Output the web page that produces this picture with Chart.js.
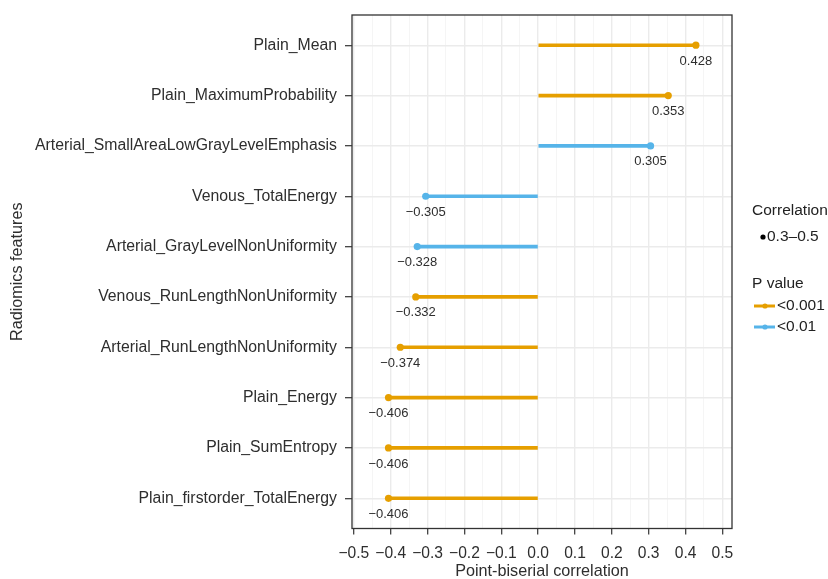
<!DOCTYPE html>
<html>
<head>
<meta charset="utf-8">
<script src="https://cdn.jsdelivr.net/npm/chart.js@4/dist/chart.umd.min.js"></script>
<style>
  html, body { margin: 0; padding: 0; background: #fff; }
  #wrap { width: 828px; height: 579px; }
</style>
</head>
<body>
<div id="wrap"><canvas id="c" width="828" height="579"></canvas></div>
<script>
// ---- data ----
const features = [
  'Plain_Mean',
  'Plain_MaximumProbability',
  'Arterial_SmallAreaLowGrayLevelEmphasis',
  'Venous_TotalEnergy',
  'Arterial_GrayLevelNonUniformity',
  'Venous_RunLengthNonUniformity',
  'Arterial_RunLengthNonUniformity',
  'Plain_Energy',
  'Plain_SumEntropy',
  'Plain_firstorder_TotalEnergy'
];
const correlations = [0.428, 0.353, 0.305, -0.305, -0.328, -0.332, -0.374, -0.406, -0.406, -0.406];
const pValueGroups = ['<0.001', '<0.001', '<0.01', '<0.01', '<0.01', '<0.001', '<0.001', '<0.001', '<0.001', '<0.001'];
const pValueLevels = ['<0.001', '<0.01'];
const correlationLevels = ['0.3\u20130.5'];
const xTickValues = [-0.5, -0.4, -0.3, -0.2, -0.1, 0.0, 0.1, 0.2, 0.3, 0.4, 0.5];

// ---- styling ----
const groupColors = { '<0.001': '#E69F00', '<0.01': '#56B4E9' };
const FONT = '"Liberation Sans", Arial, Helvetica, sans-serif';
const TEXT = '#2e2e2e';

function fmt(v) {
  const s = Math.abs(v).toFixed(1);
  return (v < -1e-9 ? '\u2212' : '') + s;
}
function fmt3(v) {
  return (v < 0 ? '\u2212' : '') + Math.abs(v).toFixed(3);
}
function isMajor(v) {
  return xTickValues.some(t => Math.abs(t - v) < 1e-6);
}

const colors = pValueGroups.map(g => groupColors[g]);

const valueLabels = {
  id: 'valueLabels',
  afterDatasetsDraw(chart) {
    const ctx = chart.ctx;
    const xs = chart.scales.x, ys = chart.scales.y;
    ctx.save();
    ctx.font = '13px ' + FONT;
    ctx.fillStyle = TEXT;
    ctx.textAlign = 'center';
    ctx.textBaseline = 'middle';
    correlations.forEach((v, i) => {
      ctx.fillText(fmt3(v), xs.getPixelForValue(v), ys.getPixelForValue(i) + 16);
    });
    ctx.restore();
  }
};

const panelBorder = {
  id: 'panelBorder',
  afterDraw(chart) {
    const a = chart.chartArea, ctx = chart.ctx;
    ctx.save();
    ctx.strokeStyle = '#333333';
    ctx.lineWidth = 1.3;
    ctx.strokeRect(a.left, a.top, a.right - a.left, a.bottom - a.top);
    ctx.restore();
  }
};

const customLegend = {
  id: 'customLegend',
  afterDraw(chart) {
    const ctx = chart.ctx;
    ctx.save();
    ctx.font = '15.5px ' + FONT;
    ctx.fillStyle = '#222';
    ctx.textAlign = 'left';
    ctx.textBaseline = 'middle';
    const lx = 752;
    ctx.fillText('Correlation', lx, 211);
    correlationLevels.forEach((lab, i) => {
      const y = 237 + i * 21;
      ctx.beginPath();
      ctx.fillStyle = '#000';
      ctx.arc(763, y, 2.6, 0, Math.PI * 2);
      ctx.fill();
      ctx.fillStyle = '#222';
      ctx.fillText(lab, 767, y);
    });
    ctx.fillText('P value', lx, 284);
    pValueLevels.forEach((lab, i) => {
      const y = 306 + i * 21;
      const c = groupColors[lab];
      ctx.strokeStyle = c;
      ctx.lineWidth = 3;
      ctx.beginPath();
      ctx.moveTo(754, y);
      ctx.lineTo(775, y);
      ctx.stroke();
      ctx.beginPath();
      ctx.fillStyle = c;
      ctx.arc(765, y, 2.6, 0, Math.PI * 2);
      ctx.fill();
      ctx.fillStyle = '#222';
      ctx.fillText(lab, 777, y);
    });
    ctx.restore();
  }
};

new Chart(document.getElementById('c'), {
  type: 'bar',
  data: {
    datasets: [
      {
        type: 'bar',
        data: correlations.map((v, i) => ({ y: i, x: [0, v] })),
        backgroundColor: colors,
        borderWidth: 0,
        barThickness: 3,
        order: 2
      },
      {
        type: 'scatter',
        data: correlations.map((v, i) => ({ x: v, y: i })),
        backgroundColor: colors,
        borderWidth: 0,
        pointRadius: 3.6,
        pointHoverRadius: 3.6,
        order: 1
      }
    ]
  },
  options: {
    indexAxis: 'y',
    responsive: false,
    animation: false,
    devicePixelRatio: 1,
    layout: { padding: { top: 15, right: 96, bottom: 0, left: 0 } },
    plugins: {
      legend: { display: false },
      tooltip: { enabled: false }
    },
    scales: {
      x: {
        type: 'linear',
        min: -0.505,
        max: 0.526,
        offset: false,
        afterFit(scale) { scale.height = 50.5; },
        border: { display: false },
        grid: {
          color: ctx => isMajor(ctx.tick.value) ? '#EBEBEB' : '#F3F3F3',
          lineWidth: ctx => isMajor(ctx.tick.value) ? 1.4 : 0.8,
          tickColor: ctx => isMajor(ctx.tick.value) ? '#333333' : 'rgba(0,0,0,0)',
          tickLength: 6,
          tickWidth: 1.2
        },
        ticks: {
          stepSize: 0.05,
          includeBounds: false,
          autoSkip: false,
          maxRotation: 0,
          padding: 9.5,
          color: TEXT,
          font: { family: FONT, size: 15.6 },
          callback: v => isMajor(v) ? fmt(v) : ''
        },
        title: {
          display: true,
          text: 'Point-biserial correlation',
          color: TEXT,
          font: { family: FONT, size: 16.2, lineHeight: 0.9 },
          padding: { top: 0, bottom: 0 }
        }
      },
      y: {
        type: 'linear',
        min: -0.6,
        max: 9.6,
        reverse: true,
        offset: false,
        afterFit(scale) {
          scale.width = 352;
          scale.paddingTop = 0;
          scale.paddingBottom = 0;
        },
        border: { display: false },
        grid: {
          offset: false,
          color: '#EBEBEB',
          lineWidth: 1.4,
          tickColor: '#333333',
          tickLength: 7,
          tickWidth: 1.2
        },
        ticks: {
          stepSize: 1,
          includeBounds: false,
          autoSkip: false,
          padding: 8,
          color: TEXT,
          font: { family: FONT, size: 15.8 },
          callback: v => features[Math.round(v)] ?? ''
        },
        title: {
          display: true,
          text: 'Radiomics features',
          color: TEXT,
          font: { family: FONT, size: 16.2 },
          padding: { top: 8, bottom: 0 }
        }
      }
    }
  },
  plugins: [valueLabels, panelBorder, customLegend]
});
</script>
</body>
</html>
